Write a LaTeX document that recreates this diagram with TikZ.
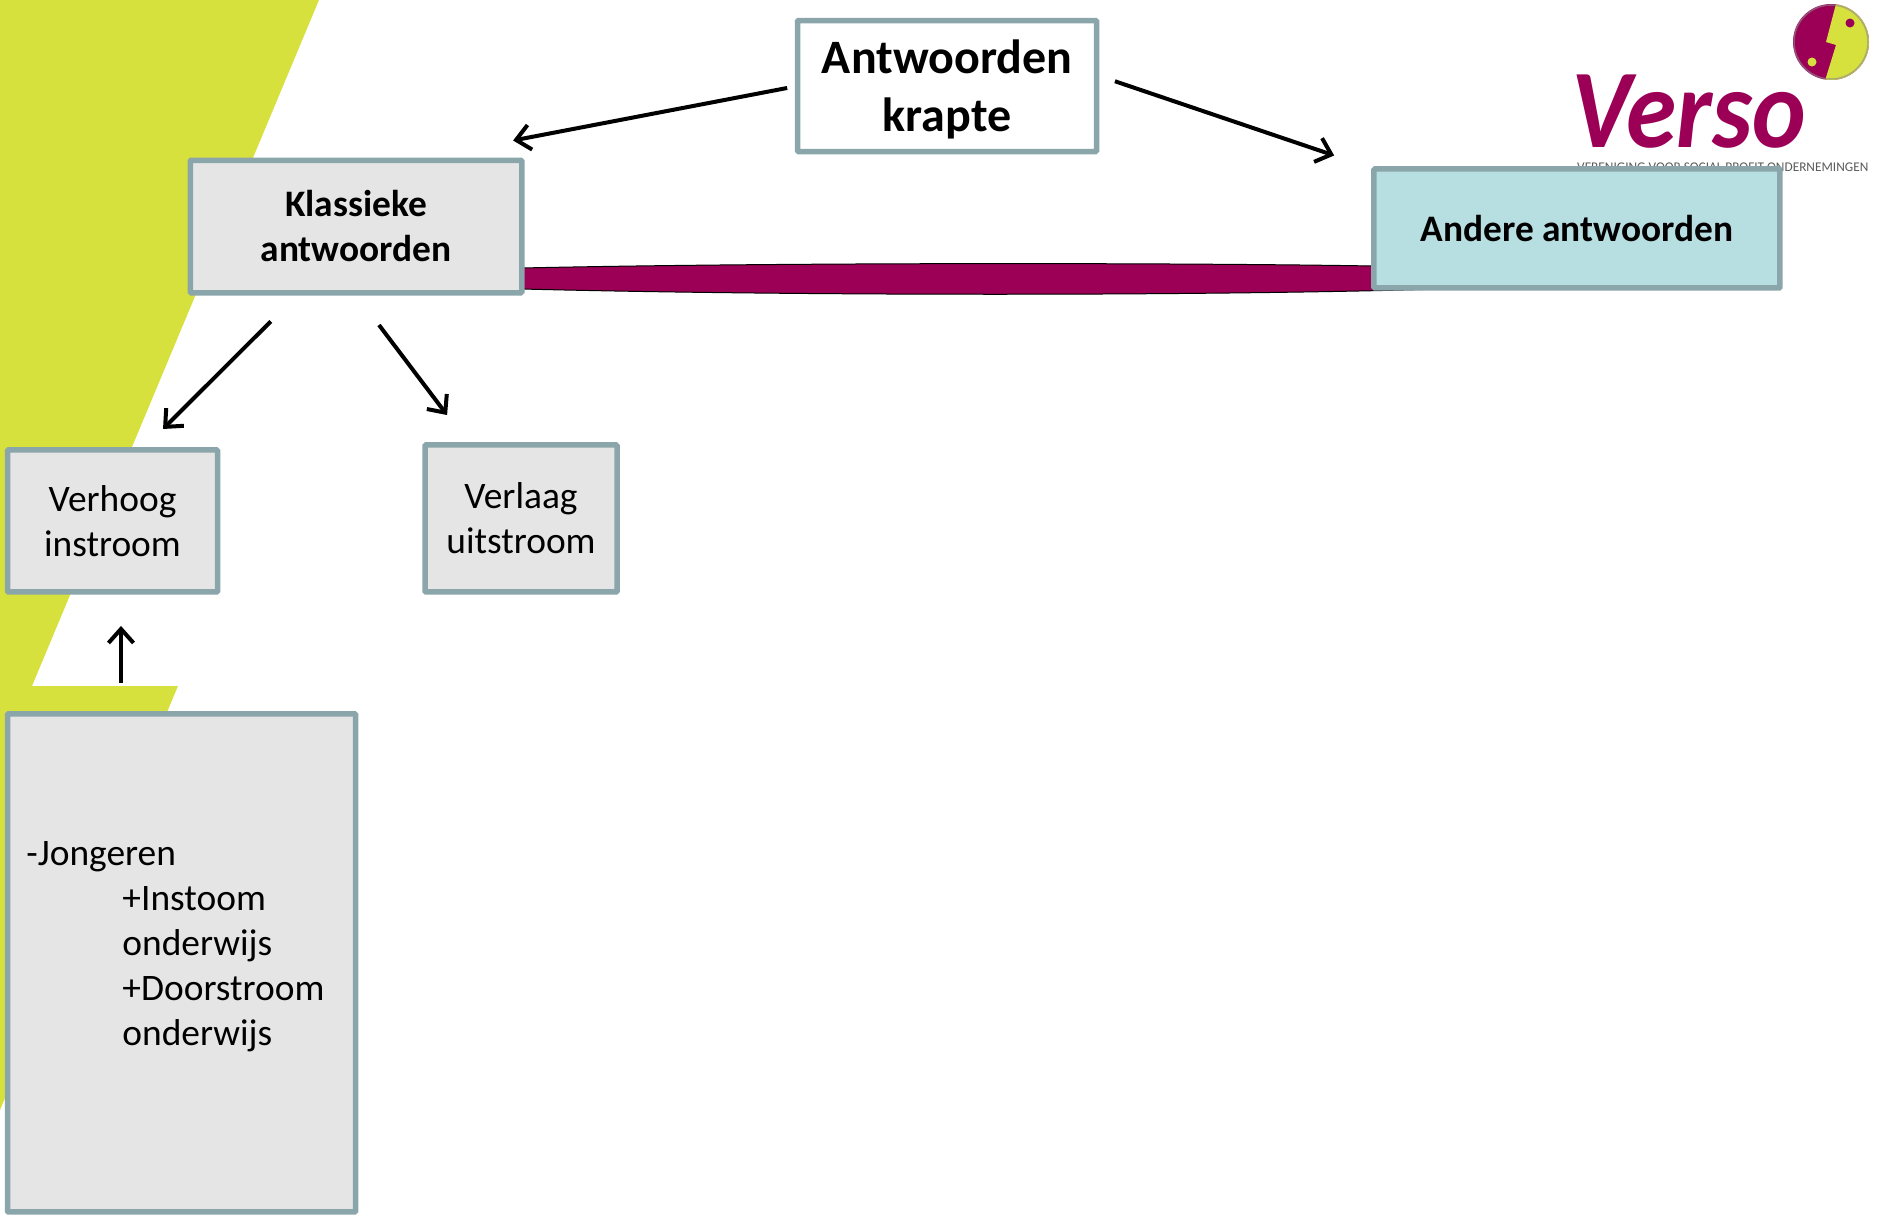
\documentclass[tikz,border=0pt]{standalone}
\usepackage{xcolor}
\usepackage{fontspec}
\setmainfont{Carlito}
\usepackage{tikz}
\usetikzlibrary{arrows.meta,positioning,calc,backgrounds}
\definecolor{versogreen}{HTML}{D7E13D}
\definecolor{versored}{HTML}{9C0056}
\definecolor{boxedge}{HTML}{8BA6AA}
\definecolor{boxfill}{HTML}{E5E5E5}
\definecolor{boxteal}{HTML}{B7DEE0}

\begin{document}
\begin{tikzpicture}[
    x=1pt, y=-1pt,
    answerbox/.style={rectangle, draw=boxedge, line width=5.5pt, fill=boxfill, align=center, inner sep=0pt, outer sep=0pt, rounded corners=1pt, font=\fontsize{37.4}{45}\selectfont},
    mainbox/.style={answerbox, fill=white, text depth=0pt, font=\fontsize{48}{58}\selectfont\bfseries},
    boldbox/.style={answerbox, font=\fontsize{37.4}{45}\selectfont\bfseries},
    tealbox/.style={boldbox, fill=boxteal},
    answerflow/.style={-{Straight Barb[length=14pt, width=25pt, line width=4pt]}, line width=4pt, black}
]
\useasboundingbox (0,0) rectangle (1883,1218);

% Top row
\node[mainbox, minimum width=299pt, minimum height=131pt] (krapte) at (947,86) {Antwoorden\\krapte};
\node[boldbox, minimum width=331.5pt, minimum height=132.5pt, below left=8.75pt and 275.75pt of krapte] (klassiek) {Klassieke\\antwoorden};
\node[tealbox, minimum width=406pt, minimum height=119pt, below right=17.45pt and 277.45pt of krapte] (andere) {Andere antwoorden};

% Classic answers
\node[answerbox, minimum width=210pt, minimum height=142pt, below=157.2pt of klassiek, xshift=-243.5pt] (verhoog) {Verhoog\\instroom};
\node[answerbox, minimum width=192pt, minimum height=147pt, right=207.5pt of verhoog, yshift=2.5pt] (verlaag) {Verlaag\\uitstroom};
\node[answerbox, minimum width=348pt, minimum height=498pt, below=121.9pt of verhoog.south west, anchor=north west, align=left, inner xsep=18pt] (jongeren) {%
    \parbox{310pt}{\baselineskip=45pt
    -Jongeren\\
    \hspace*{96pt}+Instoom\\
    \hspace*{96pt}onderwijs\\
    \hspace*{96pt}+Doorstroom\\
    \hspace*{96pt}onderwijs\\[-6pt]
    ~}};

% Arrows
\draw[answerflow, shorten <=19.5pt, shorten >=42pt] ($(krapte.east)+(0,-11)$) -- (andere.north west);
\draw[answerflow, shorten <=10.5pt, shorten >=105pt] (krapte.west) -- ($(klassiek.north)+(54,0)$);
\draw[answerflow, shorten <=40.5pt, shorten >=29.7pt] ($(klassiek.south)+(-56.5,0)$) -- ($(verhoog.north)+(29.5,0)$);
\draw[answerflow, shorten <=40.4pt, shorten >=37.5pt] ($(klassiek.south)+(-1.4,0)$) -- ($(verlaag.north)+(-51.3,0)$);
\draw[answerflow, shorten <=31pt, shorten >=34pt] ($(jongeren.north west)+(113.5,0)$) -- ($(verhoog.south)+(8.5,0)$);

\begin{scope}[on background layer]
% Green band
\fill[versogreen] (0,0) -- (319,0) -- (32,686) -- (178,686) -- (5,1098) -- (0,1110) -- cycle;
% Bar
\draw[fill=versored, line width=1pt] (klassiek.south east |- 0,268) .. controls (800,262) and (1200,263) .. (1373,266) -- (1441,289) .. controls (1200,296) and (800,296) .. (klassiek.south east |- 0,289) -- cycle;
% Logo
\fill[versored] (1831,42) circle (38pt);
\begin{scope}
\clip (1831,42) circle (38pt);
\fill[versogreen] (1837,0) -- (1826,42) -- (1836,45) -- (1824,84) -- (1880,84) -- (1880,0) -- cycle;
\end{scope}
\draw[black!45, opacity=.6, line width=1.5pt] (1831,42) circle (37pt);
\fill[versogreen] (1812,62) circle (4.5pt);
\fill[versored] (1850,23) circle (4.5pt);
\node[anchor=base west, inner sep=0pt, text=versored, xscale=.91, text depth=0pt, font=\fontsize{112}{112}\selectfont\bfseries\itshape] (verso) at (1571,147) {Verso};
\node[anchor=base west, inner sep=0pt, text=black!65, font=\fontsize{13.3}{14}\selectfont] (versosub) at (1577,171) {VERENIGING VOOR SOCIAL PROFIT ONDERNEMINGEN};
\end{scope}

\end{tikzpicture}
\end{document}
